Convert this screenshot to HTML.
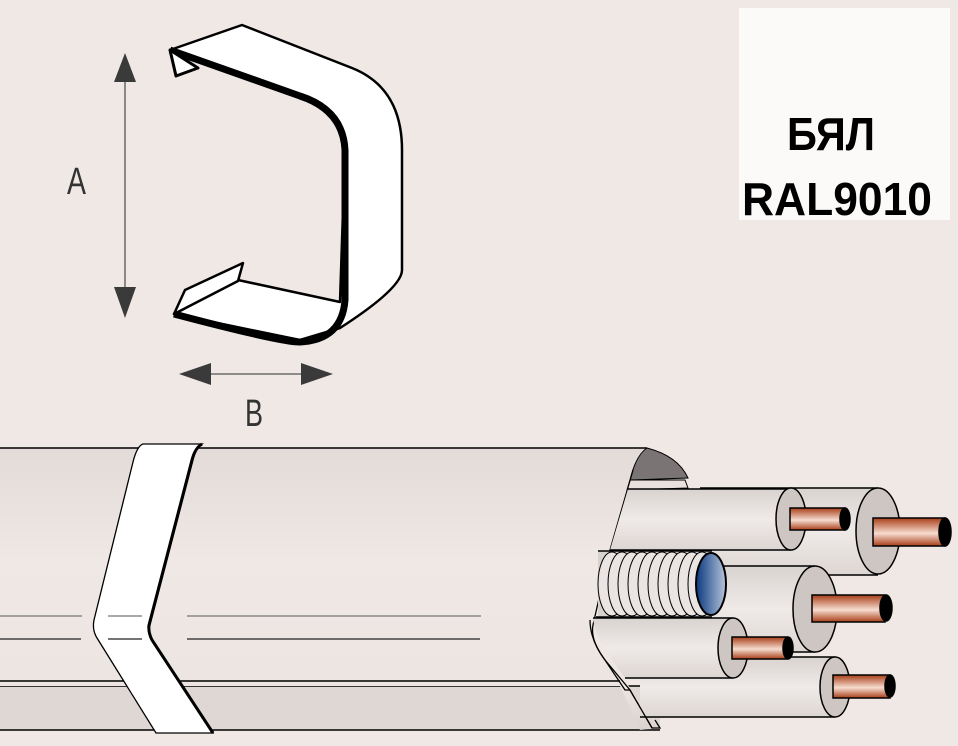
<!DOCTYPE html>
<html><head><meta charset="utf-8"><style>
html,body{margin:0;padding:0;background:#efe8e5;}
svg{display:block;}
</style></head><body>
<svg width="958" height="746" viewBox="0 0 958 746" xmlns="http://www.w3.org/2000/svg">
<defs>
<linearGradient id="duct" x1="0" y1="0" x2="0" y2="1">
<stop offset="0" stop-color="#e2dbd8"/><stop offset="0.4" stop-color="#efe8e5"/><stop offset="0.85" stop-color="#ece5e2"/><stop offset="1" stop-color="#d9d2cf"/>
</linearGradient>
<linearGradient id="pipe" x1="0" y1="0" x2="0" y2="1">
<stop offset="0" stop-color="#d9d3d0"/><stop offset="0.5" stop-color="#efeae8"/><stop offset="1" stop-color="#ddd6d3"/>
</linearGradient>
<linearGradient id="cu" x1="0" y1="0" x2="0" y2="1">
<stop offset="0" stop-color="#a83e18"/><stop offset="0.55" stop-color="#f6dccf"/><stop offset="1" stop-color="#a83e18"/>
</linearGradient>
<linearGradient id="blue" x1="0" y1="0" x2="1" y2="0">
<stop offset="0" stop-color="#0a3a80"/><stop offset="1" stop-color="#b8c4dc"/>
</linearGradient>
</defs>
<rect width="958" height="746" fill="#efe8e5"/>

<rect x="739" y="8" width="211" height="212" fill="#fbfaf8"/>
<text x="787" y="150" font-family="Liberation Sans, sans-serif" font-weight="bold" font-size="46" textLength="88" lengthAdjust="spacingAndGlyphs">БЯЛ</text>
<text x="742" y="215" font-family="Liberation Sans, sans-serif" font-weight="bold" font-size="46" textLength="190" lengthAdjust="spacingAndGlyphs">RAL9010</text>

<g fill="#3a3a3a" stroke="#555">
<line x1="125" y1="70" x2="125" y2="300" stroke-width="1.3"/>
<polygon points="125,53 114,82 136,82" stroke="none"/>
<polygon points="125,318 114,287 136,287" stroke="none"/>
<line x1="200" y1="374" x2="315" y2="374" stroke-width="1.3"/>
<polygon points="179,374 211,363 211,385" stroke="none"/>
<polygon points="333,374 301,363 301,385" stroke="none"/>
</g>
<text x="67" y="194" font-family="Liberation Sans, sans-serif" font-size="38" fill="#333" textLength="19" lengthAdjust="spacingAndGlyphs">A</text>
<text x="245" y="426" font-family="Liberation Sans, sans-serif" font-size="38" fill="#333" textLength="18" lengthAdjust="spacingAndGlyphs">B</text>

<g stroke="#000" stroke-linejoin="round">
<path d="M170,50 L242,25 L352,68 Q402,88 402,150 L402,270 Q402,288 340,328 L300,340 L174,314 L238,280 L340,302 L345,150 Q342,110 300,96 Z" fill="#fff" stroke-width="2.5"/>
<path d="M170,50 L300,96 Q343,110 345,150 L345,300 Q342,340 300,342 Q280,342 174,314" fill="none" stroke-width="7"/>
<path d="M170,50 L176,76 L198,68 Z" fill="#fff" stroke-width="3"/>
<path d="M174,314 L185,290 L243,263 L238,281 Z" fill="#fff" stroke-width="2.5"/>
</g>

<path d="M0,681 L0,686 L660,686 L660,730 L0,730 Z" fill="#ded7d4"/>
<line x1="0" y1="686" x2="660" y2="686" stroke="#000" stroke-width="1.5"/>
<line x1="0" y1="730" x2="660" y2="730" stroke="#000" stroke-width="1.5"/>
<path d="M0,448 L647,448 Q675,455 685,475 L680,480 L660,480 L640,470 L615,545 L595,640 L625,680 L650,720 L660,728 L640,730 L620,686 L0,686 Z" fill="url(#duct)"/>
<path d="M647,448 Q678,456 688,478 L630,480 Q636,455 647,448 Z" fill="#7a7474" stroke="#000" stroke-width="1"/>
<line x1="0" y1="448" x2="647" y2="448" stroke="#000" stroke-width="1.5"/>
<line x1="0" y1="681" x2="620" y2="681" stroke="#000" stroke-width="1.5"/>

<path d="M143,444 L202,444 Q196,448 193,460 L150,625 Q148,632 152,640 L213,733 L156,733 L97,638 Q92,630 94,620 L133,462 Q137,446 143,444 Z" fill="#fff" stroke="#000" stroke-width="1.3"/>
<path d="M202,444 Q195,448 192,460 L149,625 Q148,632 152,640 L213,733" fill="none" stroke="#000" stroke-width="3"/>

<g stroke-width="1.2">
<line x1="0" y1="616" x2="82" y2="616" stroke="#777"/><line x1="108" y1="616" x2="142" y2="616" stroke="#777"/><line x1="187" y1="616" x2="481" y2="616" stroke="#777"/>
<line x1="0" y1="639" x2="81" y2="639" stroke="#222"/><line x1="108" y1="639" x2="142" y2="639" stroke="#222"/><line x1="187" y1="639" x2="480" y2="639" stroke="#222"/>
</g>

<path d="M630,480 L685,480 L688,488 L627,490 Z" fill="#e8e1de" stroke="#000" stroke-width="1"/>
<path d="M633,470 L610,550 L593,625 Q590,640 605,660 L625,690 L630,690 L652,728 L660,728 L655,720" fill="none" stroke="#000" stroke-width="1.3"/>

<g stroke="#000" stroke-width="1.5">
<rect x="700" y="488" width="178" height="87" fill="url(#pipe)" stroke="none"/>
<line x1="700" y1="488" x2="878" y2="488"/><line x1="700" y1="575" x2="878" y2="575"/>
<ellipse cx="878" cy="531" rx="22" ry="43" fill="#cdc6c3"/>
<rect x="873" y="518" width="72" height="28" fill="url(#cu)"/>
<ellipse cx="945" cy="532" rx="6" ry="14" fill="#000"/>
<path d="M628,489 L791,489 L791,550 L610,550 Z" fill="url(#pipe)" stroke="none"/>
<line x1="628" y1="489" x2="791" y2="489"/><line x1="610" y1="550" x2="791" y2="550"/>
<ellipse cx="791" cy="519" rx="15" ry="31" fill="#cdc6c3"/>
<rect x="790" y="508" width="55" height="22" fill="url(#cu)"/>
<ellipse cx="845" cy="519" rx="5" ry="11" fill="#000"/>
<rect x="640" y="657" width="195" height="60" fill="url(#pipe)" stroke="none"/>
<line x1="640" y1="717" x2="835" y2="717"/><line x1="780" y1="657" x2="835" y2="657"/>
<ellipse cx="835" cy="687" rx="15" ry="30" fill="#cdc6c3"/>
<rect x="833" y="675" width="57" height="23" fill="url(#cu)"/>
<ellipse cx="890" cy="686" rx="5" ry="11" fill="#000"/>
<rect x="700" y="566" width="115" height="86" fill="url(#pipe)" stroke="none"/>
<line x1="700" y1="566" x2="815" y2="566"/><line x1="733" y1="652" x2="815" y2="652"/>
<ellipse cx="815" cy="609" rx="22" ry="43" fill="#cdc6c3"/>
<rect x="812" y="595" width="73" height="27" fill="url(#cu)"/>
<ellipse cx="886" cy="608" rx="6" ry="13" fill="#000"/>
<rect x="598" y="551" width="114" height="66" fill="#d8d2cf" stroke="none"/>
<line x1="598" y1="551" x2="712" y2="551"/><line x1="596" y1="617" x2="712" y2="617"/>
</g>
<g fill="#eae5e3" stroke="#000" stroke-width="1">
<ellipse cx="612" cy="584" rx="14" ry="32"/><ellipse cx="622" cy="584" rx="14" ry="32"/><ellipse cx="632" cy="584" rx="14" ry="32"/><ellipse cx="642" cy="584" rx="14" ry="32"/><ellipse cx="652" cy="584" rx="14" ry="32"/><ellipse cx="662" cy="584" rx="14" ry="32"/><ellipse cx="672" cy="584" rx="14" ry="32"/><ellipse cx="682" cy="584" rx="14" ry="32"/><ellipse cx="692" cy="584" rx="14" ry="32"/><ellipse cx="702" cy="584" rx="14" ry="32"/>
</g>
<ellipse cx="711" cy="584" rx="15" ry="31" fill="url(#blue)" stroke="#000" stroke-width="2"/>
<g stroke="#000" stroke-width="1.5">
<path d="M593,618 L733,618 L733,678 L625,678 Q595,640 593,618 Z" fill="url(#pipe)" stroke="none"/>
<line x1="593" y1="618" x2="733" y2="618"/><line x1="625" y1="678" x2="733" y2="678"/>
<ellipse cx="733" cy="648" rx="15" ry="30" fill="#cdc6c3"/>
<rect x="732" y="637" width="55" height="22" fill="url(#cu)"/>
<ellipse cx="788" cy="648" rx="5" ry="11" fill="#000"/>
</g>
<path d="M590,620 Q590,640 605,660 L630,690 L652,728" fill="none" stroke="#000" stroke-width="1.3"/>
</svg>
</body></html>
